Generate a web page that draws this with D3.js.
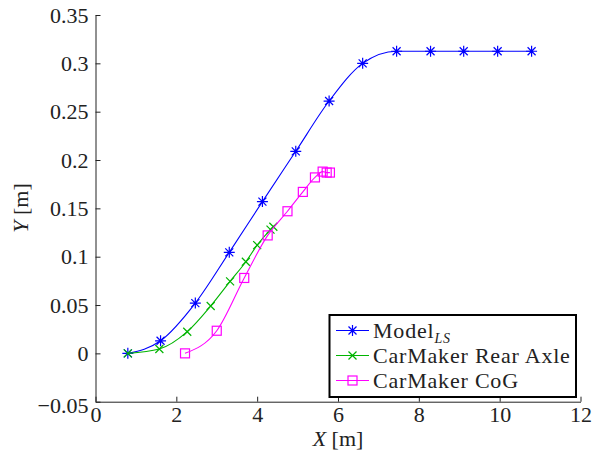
<!DOCTYPE html>
<html><head><meta charset="utf-8">
<script src="https://d3js.org/d3.v7.min.js"></script>
</head><body style="margin:0;background:#fff"><svg id="c" width="592" height="457" font-family="Liberation Serif" font-size="22"></svg>
<script>
const modelX = [0.80,1.61,2.47,3.31,4.13,4.955,5.78,6.61,7.45,8.29,9.11,9.95,10.79];
const modelY = [0.000,0.013,0.052,0.1045,0.157,0.209,0.261,0.300,0.3125,0.3125,0.3125,0.3125,0.3125];
const rearX = [0.80,1.58,2.27,2.85,3.33,3.72,4.00,4.33,4.40];
const rearY = [0.000,0.0045,0.0224,0.049,0.0745,0.0948,0.112,0.128,0.131];
const cogX = [2.215,3.00,3.68,4.26,4.75,5.13,5.43,5.62,5.72,5.80];
const cogY = [0.000,0.0234,0.078,0.122,0.147,0.167,0.182,0.188,0.187,0.187];
const xTicks = [0,2,4,6,8,10,12];
const yTicks = [-0.05,0,0.05,0.1,0.15,0.2,0.25,0.3,0.35];
const legendLabels = ["Model","CarMaker Rear Axle","CarMaker CoG"];

const FF = '"Liberation Serif"';
const svg = d3.select("#c");
const L=95.5,R=580.5,T=15,B=401.7;
const x = d3.scaleLinear().domain([0,12]).range([L,R]);
const y = d3.scaleLinear().domain([-0.05,0.35]).range([B,T]);
const axCol="#222";

function ff(sel, size){ return sel.attr("font-family","Liberation Serif").attr("font-size",size).style("font-family",FF).style("font-size",size+"px"); }

// axes
const xa = svg.append("g").attr("transform",`translate(0,${B})`)
  .call(d3.axisBottom(x).tickValues(xTicks).tickSize(-5).tickSizeOuter(0).tickFormat(d=>d).tickPadding(4));
const ya = svg.append("g").attr("transform",`translate(${L},0)`)
  .call(d3.axisLeft(y).tickValues(yTicks).tickSize(-5).tickSizeOuter(0).tickFormat(d=>d<0?"\u22120.05":(d===0?"0":String(+d.toFixed(2)))).tickPadding(7));
[xa,ya].forEach(a=>{
  ff(a,22);
  a.selectAll("path").attr("stroke",axCol).attr("stroke-width",1);
  a.selectAll("line").attr("stroke",axCol).attr("stroke-width",1);
  ff(a.selectAll("text"),22).attr("fill",axCol);
});
xa.selectAll("text").attr("dy","0.72em");
ya.selectAll(".tick").filter(d=>d<0).select("text").attr("dy","0.5em");

// labels
const xl = ff(svg.append("text"),22).attr("x",338).attr("y",446).attr("text-anchor","middle").attr("fill",axCol);
xl.append("tspan").attr("font-style","italic").text("X");
xl.append("tspan").text(" [m]");
const yl = ff(svg.append("text"),22).attr("transform","translate(28,208) rotate(-90)").attr("text-anchor","middle").attr("fill",axCol);
yl.append("tspan").attr("font-style","italic").text("Y");
yl.append("tspan").text(" [m]");

const series = [
  {xs:modelX, ys:modelY, color:"#0000ff", marker:"star"},
  {xs:rearX, ys:rearY, color:"#00b400", marker:"x"},
  {xs:cogX, ys:cogY, color:"#ff00ff", marker:"square"}
];
const line = d3.line().x(d=>x(d[0])).y(d=>y(d[1])).curve(d3.curveMonotoneX);

function drawMarker(g, type, cx, cy, color){
  if(type==="star"){
    const r=5.5, q=4;
    g.append("path").attr("d",`M${cx-r},${cy}H${cx+r}M${cx},${cy-r}V${cy+r}M${cx-q},${cy-q}L${cx+q},${cy+q}M${cx-q},${cy+q}L${cx+q},${cy-q}`)
      .attr("stroke",color).attr("stroke-width",1.2).attr("fill","none");
  } else if(type==="x"){
    const q=4;
    g.append("path").attr("d",`M${cx-q},${cy-q}L${cx+q},${cy+q}M${cx-q},${cy+q}L${cx+q},${cy-q}`)
      .attr("stroke",color).attr("stroke-width",1.2).attr("fill","none");
  } else {
    const s=4.5;
    g.append("rect").attr("x",cx-s).attr("y",cy-s).attr("width",2*s).attr("height",2*s)
      .attr("stroke",color).attr("stroke-width",1.2).attr("fill","none");
  }
}

series.forEach(s=>{
  const pts = s.xs.map((v,i)=>[v,s.ys[i]]);
  svg.append("path").datum(pts).attr("d",line).attr("fill","none").attr("stroke",s.color).attr("stroke-width",1.1);
  const g = svg.append("g");
  pts.forEach(p=>drawMarker(g,s.marker,x(p[0]),y(p[1]),s.color));
});

// legend
const lg = svg.append("g");
lg.append("rect").attr("x",329.5).attr("y",315).attr("width",246.5).attr("height",82)
  .attr("fill","#fff").attr("stroke","#000").attr("stroke-width",2);
series.forEach((s,i)=>{
  const cy = 330.5 + i*25;
  lg.append("line").attr("x1",336).attr("x2",369).attr("y1",cy).attr("y2",cy).attr("stroke",s.color).attr("stroke-width",1.1);
  drawMarker(lg,s.marker,352.5,cy,s.color);
  const t = ff(lg.append("text"),22).attr("x",373).attr("y",cy+7).attr("letter-spacing",0.8).attr("fill",axCol);
  t.append("tspan").text(legendLabels[i]);
  if(i===0){
    t.append("tspan").attr("font-size",14).style("font-size","14px").attr("font-style","italic").attr("dy",5).text("LS");
  }
});
</script></body></html>
